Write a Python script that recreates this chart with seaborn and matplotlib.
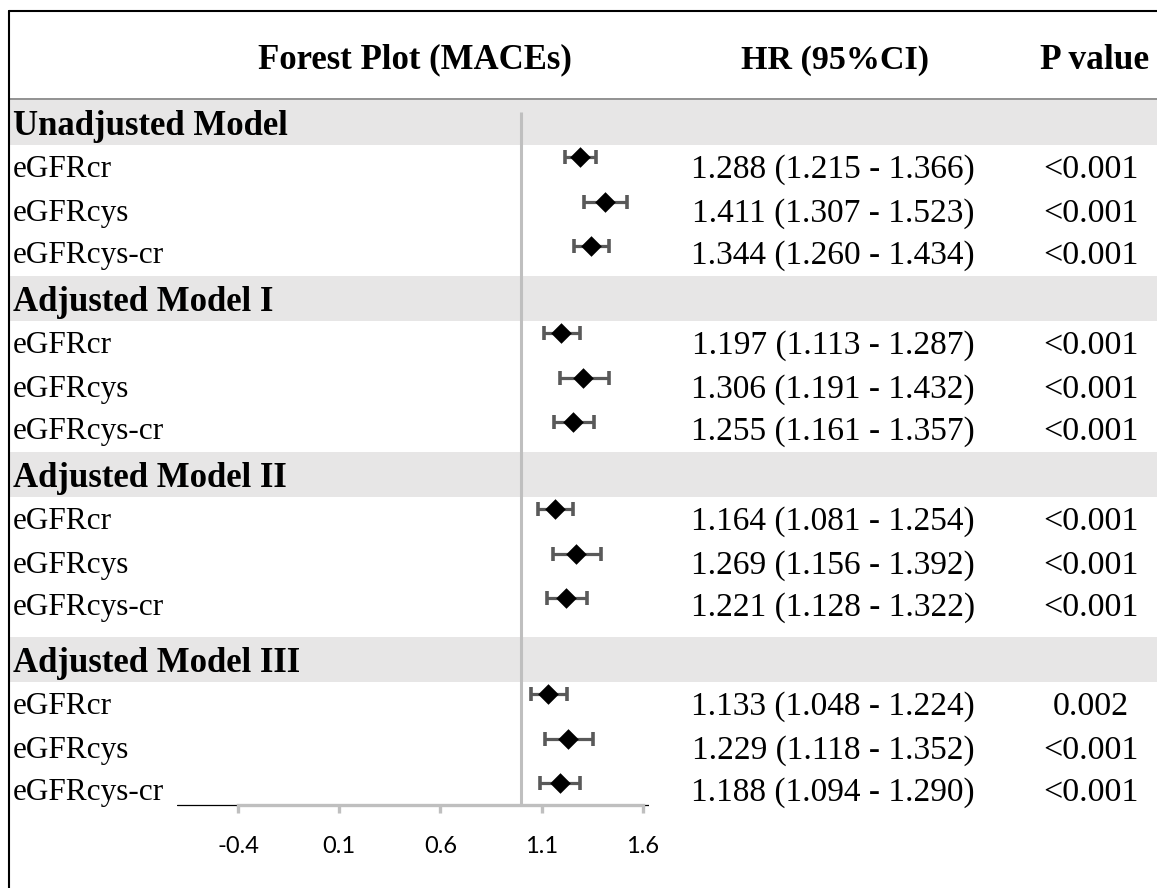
import numpy as np
import matplotlib.pyplot as plt
import seaborn as sns

# Data
groups = ['Unadjusted Model', 'Adjusted Model I', 'Adjusted Model II', 'Adjusted Model III']
measures = ['eGFRcr', 'eGFRcys', 'eGFRcys-cr']
hr = [1.288, 1.411, 1.344,
      1.197, 1.306, 1.255,
      1.164, 1.269, 1.221,
      1.133, 1.229, 1.188]
ci_low = [1.215, 1.307, 1.260,
          1.113, 1.191, 1.161,
          1.081, 1.156, 1.128,
          1.048, 1.118, 1.094]
ci_high = [1.366, 1.523, 1.434,
           1.287, 1.432, 1.357,
           1.254, 1.392, 1.322,
           1.224, 1.352, 1.290]
p_values = ['<0.001', '<0.001', '<0.001',
            '<0.001', '<0.001', '<0.001',
            '<0.001', '<0.001', '<0.001',
            '0.002', '<0.001', '<0.001']
xticks = [-0.4, 0.1, 0.6, 1.1, 1.6]

sns.set_theme(style='white')
plt.rcParams['font.family'] = ['Liberation Serif', 'DejaVu Sans']
plt.rcParams['text.color'] = 'black'

W, H = 1157, 888
# layout (pixel rows of the table)
group_top = [100, 276, 452, 637]
band_h = 45
item_text_off = [67, 111, 153]
item_mark_off = [57, 102, 146]
y_axis = 805

fig = plt.figure(figsize=(W / 100, H / 100), dpi=100)

bg = fig.add_axes([0, 0, 1, 1])
bg.set_xlim(0, W)
bg.set_ylim(H, 0)
bg.axis('off')

ax = fig.add_axes([177 / W, 0, (649 - 177) / W, 1])
ax.set_xlim(-0.701, 1.630)
ax.set_ylim(H, 0)
ax.patch.set_alpha(0)

PX = 100 / 72


def put(x, yc, s, size, **kw):
    # place text so the cap/digit centre lands on yc
    bg.text(x, yc + 0.335 * size * PX, s, fontsize=size, va='baseline', **kw)


y_text, y_mark = [], []
for g, name in enumerate(groups):
    top = group_top[g]
    bg.axhspan(top, top + band_h, xmin=10 / W, xmax=1, color='#e7e6e6', lw=0)
    put(13, top + 23, name, 25, fontweight='bold', ha='left')
    y_text += [top + o for o in item_text_off]
    y_mark += [top + o for o in item_mark_off]

for i, y in enumerate(y_text):
    put(13, y, measures[i % 3], 22.5, ha='left')
    put(833, y, f'{hr[i]:.3f} ({ci_low[i]:.3f} - {ci_high[i]:.3f})', 24, ha='center')
    put(1091, y, p_values[i], 24.5, ha='center')

# header
put(415, 57, 'Forest Plot (MACEs)', 25, fontweight='bold', ha='center')
put(835, 57, 'HR (95%CI)', 24.5, fontweight='bold', ha='center')
put(1095, 57, 'P value', 25.5, fontweight='bold', ha='center')

# frame lines
bg.axhline(99.5, xmin=9 / W, color='#7f7f7f', lw=1.2)
bg.axhline(11, xmin=9 / W, color='black', lw=1.5)
bg.axvline(9, ymin=0, ymax=1 - 11 / H, color='black', lw=1.5)

# markers and CIs
hr_a, lo_a, hi_a = np.array(hr), np.array(ci_low), np.array(ci_high)
y_mark = np.array(y_mark)
ax.errorbar(hr_a, y_mark, xerr=[hr_a - lo_a, hi_a - hr_a], fmt='none',
            ecolor='#595959', elinewidth=2.3, capsize=4.7, capthick=2.6, zorder=3)
sns.scatterplot(x=hr_a, y=y_mark, marker='D', s=110, color='black',
                edgecolor='black', linewidth=0, ax=ax, zorder=4)

# reference line and axis
ax.vlines(1.0, 112, y_axis, color='#bfbfbf', lw=2.2, zorder=1)
ax.axhline(y_axis, color='black', lw=0.9, zorder=1)
for s in ['left', 'top', 'right']:
    ax.spines[s].set_visible(False)
ax.spines['bottom'].set_position(('data', y_axis))
ax.spines['bottom'].set_bounds(xticks[0], xticks[-1])
ax.spines['bottom'].set_color('#bfbfbf')
ax.spines['bottom'].set_linewidth(2.4)
ax.spines['bottom'].set_zorder(2)
ax.set_xticks(xticks)
ax.set_xticklabels([f'{t:.1f}' for t in xticks], family=['Lato', 'DejaVu Sans'])
ax.set_yticks([])
ax.tick_params(axis='x', bottom=True, length=6, width=2.4, color='#bfbfbf',
               labelsize=17, pad=16, labelcolor='black')
ax.set_xlabel('')
ax.set_ylabel('')

fig.savefig('out.png', dpi=100)
